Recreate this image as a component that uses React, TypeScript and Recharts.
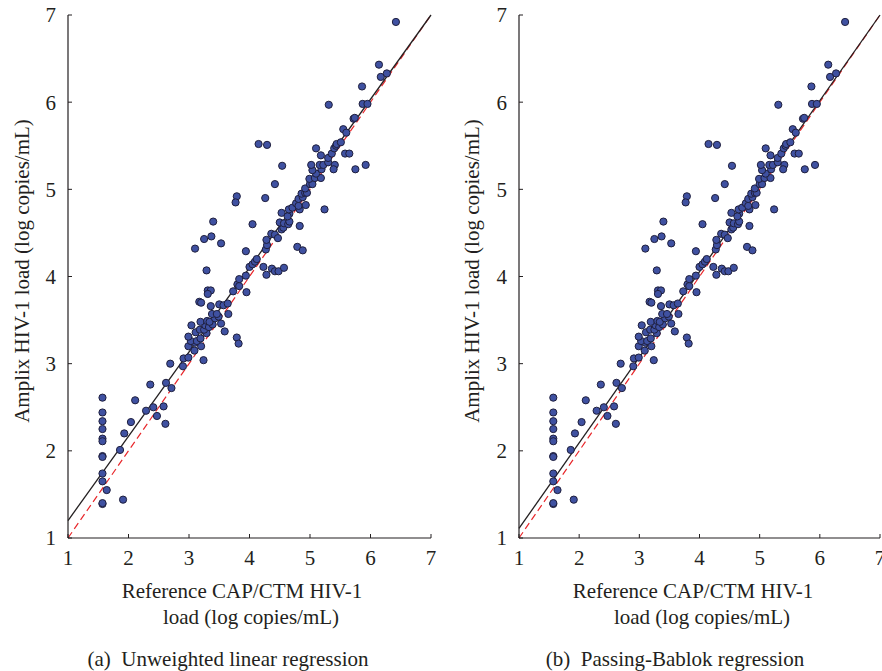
import React from 'react';
import { ScatterChart, Scatter, XAxis, YAxis, ReferenceLine } from 'recharts';

// Reference CAP/CTM (x) vs Amplix (y), log copies/mL — same samples in both panels
const referenceLoad = [
  1.57, 1.57, 1.57, 1.57, 1.57, 1.57, 1.57, 1.57, 1.57, 1.57, 1.57, 1.57,
  1.64, 1.91, 1.86, 1.93, 2.04, 2.11, 2.29, 2.41, 2.47, 2.58, 2.61, 2.36,
  2.62, 2.71, 2.69, 2.90, 2.91, 2.99, 3.24, 3.09, 2.99, 3.20, 3.10, 3.03,
  3.13, 3.19, 2.99, 3.79, 3.82, 3.29, 3.11, 3.59, 3.18, 3.25, 3.04, 3.27,
  3.33, 3.39, 3.53, 3.19, 3.30, 3.34, 3.43, 3.49, 3.38, 3.46, 3.65, 3.36,
  3.17, 3.20, 3.50, 3.57, 3.64, 3.31, 3.36, 3.31, 3.73, 3.95, 3.80, 3.83,
  3.83, 3.94, 4.00, 4.05, 4.09, 4.12, 4.23, 4.28, 4.37, 4.42, 4.48, 4.57,
  3.94, 4.27, 4.29, 4.28, 4.79, 4.88, 4.36, 4.42, 4.47, 4.53, 4.56, 4.50,
  4.57, 4.64, 4.66, 4.83, 4.53, 4.66, 4.63, 4.65, 4.71, 4.83, 5.24, 4.77,
  4.81, 4.93, 4.81, 4.88, 4.86, 4.92, 4.95, 4.92, 5.00, 5.04, 4.99, 5.08,
  5.18, 5.10, 5.04, 5.19, 5.02, 5.16, 5.22, 5.41, 5.39, 5.30, 5.30, 5.36,
  5.18, 5.10, 5.40, 5.43, 5.44, 5.51, 5.58, 5.65, 5.92, 5.75, 5.55, 5.60,
  5.72, 5.74, 5.31, 5.87, 5.95, 5.86, 6.14, 6.17, 6.27, 6.42,
  4.15, 4.29, 4.54, 4.42, 4.26, 3.79, 3.77, 3.40, 4.05, 3.25, 3.37, 3.53,
  3.10, 3.29,
];
const amplixLoad = [
  2.61, 2.44, 2.34, 2.25, 2.14, 2.11, 1.94, 1.93, 1.74, 1.65, 1.39, 1.40,
  1.55, 1.44, 2.01, 2.20, 2.33, 2.58, 2.46, 2.50, 2.40, 2.51, 2.31, 2.76,
  2.78, 2.72, 3.00, 2.97, 3.06, 3.07, 3.04, 3.15, 3.20, 3.20, 3.24, 3.26,
  3.26, 3.29, 3.31, 3.30, 3.23, 3.35, 3.36, 3.37, 3.39, 3.39, 3.44, 3.44,
  3.42, 3.45, 3.46, 3.48, 3.49, 3.48, 3.52, 3.54, 3.57, 3.57, 3.57, 3.66,
  3.71, 3.70, 3.68, 3.67, 3.69, 3.84, 3.84, 3.80, 3.83, 3.82, 3.91, 3.89,
  3.97, 4.01, 4.11, 4.14, 4.17, 4.20, 4.11, 4.02, 4.09, 4.06, 4.06, 4.10,
  4.29, 4.31, 4.36, 4.42, 4.34, 4.30, 4.49, 4.48, 4.44, 4.54, 4.56, 4.62,
  4.61, 4.60, 4.63, 4.58, 4.73, 4.72, 4.69, 4.77, 4.79, 4.77, 4.77, 4.84,
  4.81, 4.82, 4.89, 4.91, 4.95, 4.96, 4.96, 5.01, 5.06, 5.06, 5.12, 5.13,
  5.13, 5.18, 5.22, 5.23, 5.28, 5.28, 5.28, 5.28, 5.23, 5.31, 5.36, 5.41,
  5.39, 5.47, 5.47, 5.50, 5.52, 5.54, 5.41, 5.41, 5.28, 5.23, 5.69, 5.65,
  5.81, 5.82, 5.97, 5.98, 5.98, 6.18, 6.43, 6.29, 6.33, 6.92,
  5.52, 5.51, 5.27, 5.06, 4.90, 4.92, 4.85, 4.63, 4.60, 4.43, 4.46, 4.38,
  4.32, 4.07,
];

const axisTicks = [1, 2, 3, 4, 5, 6, 7];
const identityLine = [{ x: 1, y: 1 }, { x: 7, y: 7 }];
const unweightedFit = [{ x: 1, y: 1.2 }, { x: 7, y: 7.0 }];
const passingBablokFit = [{ x: 1, y: 1.11 }, { x: 7, y: 7.0 }];

const points = referenceLoad.map((x, i) => ({ x, y: amplixLoad[i] }));

const FONT = '"Liberation Serif", "DejaVu Serif", serif';
const INK = '#231f20';

const Dot = (props: any) => (
  <circle cx={props.cx} cy={props.cy} r={3.6} fill="#3f51a1" stroke="#1f1f3d" strokeWidth={1} />
);

const tickStyle = { fontSize: 21, fill: INK, fontFamily: FONT };

const Panel = ({ fit, width }: { fit: { x: number; y: number }[]; width: number }) => (
  <ScatterChart width={width} height={580} margin={{ top: 15, right: 9, bottom: 0, left: 0 }}>
    <XAxis
      type="number"
      dataKey="x"
      domain={[1, 7]}
      ticks={axisTicks}
      allowDataOverflow
      height={42}
      tickSize={-4}
      tickMargin={16}
      axisLine={{ stroke: INK, strokeWidth: 1.2 }}
      tickLine={{ stroke: INK }}
      tick={tickStyle}
    />
    <YAxis
      type="number"
      dataKey="y"
      domain={[1, 7]}
      ticks={axisTicks}
      allowDataOverflow
      width={68}
      tickSize={-4}
      tickMargin={16}
      axisLine={{ stroke: INK, strokeWidth: 1.2 }}
      tickLine={{ stroke: INK }}
      tick={tickStyle}
    />
    <ReferenceLine segment={identityLine} stroke="#e8262a" strokeDasharray="7 4" strokeWidth={1.2} />
    <ReferenceLine segment={fit} stroke={INK} strokeWidth={1.3} />
    <Scatter data={points} shape={Dot} isAnimationActive={false} />
  </ScatterChart>
);

const text = (left: number, top: number, w: number, s: string, rotate = false) => (
  <div
    style={{
      position: 'absolute',
      left,
      top,
      width: w,
      height: 22,
      lineHeight: '22px',
      textAlign: 'center',
      fontFamily: FONT,
      fontSize: 21,
      color: INK,
      whiteSpace: 'nowrap',
      transform: rotate ? 'rotate(-90deg)' : undefined,
      transformOrigin: 'center',
    }}
  >
    {s}
  </div>
);

export default function App() {
  return (
    <div style={{ position: 'absolute', left: 0, top: 0, width: 882, height: 671, overflow: 'hidden', background: '#fff' }}>
      <div style={{ position: 'absolute', left: 0, top: 0 }}>
        <Panel fit={unweightedFit} width={440} />
      </div>
      <div style={{ position: 'absolute', left: 451, top: 0 }}>
        <Panel fit={passingBablokFit} width={438} />
      </div>

      {text(22 - 180, 260, 360, 'Amplix HIV-1 load (log copies/mL)', true)}
      {text(472 - 180, 260, 360, 'Amplix HIV-1 load (log copies/mL)', true)}

      {text(242 - 150, 580, 300, 'Reference CAP/CTM HIV-1')}
      {text(251 - 150, 606, 300, 'load (log copies/mL)')}
      {text(228 - 180, 648, 360, '(a)\u00a0\u00a0Unweighted linear regression')}

      {text(693 - 150, 580, 300, 'Reference CAP/CTM HIV-1')}
      {text(702 - 150, 606, 300, 'load (log copies/mL)')}
      {text(675 - 180, 648, 360, '(b)\u00a0\u00a0Passing-Bablok regression')}
    </div>
  );
}
